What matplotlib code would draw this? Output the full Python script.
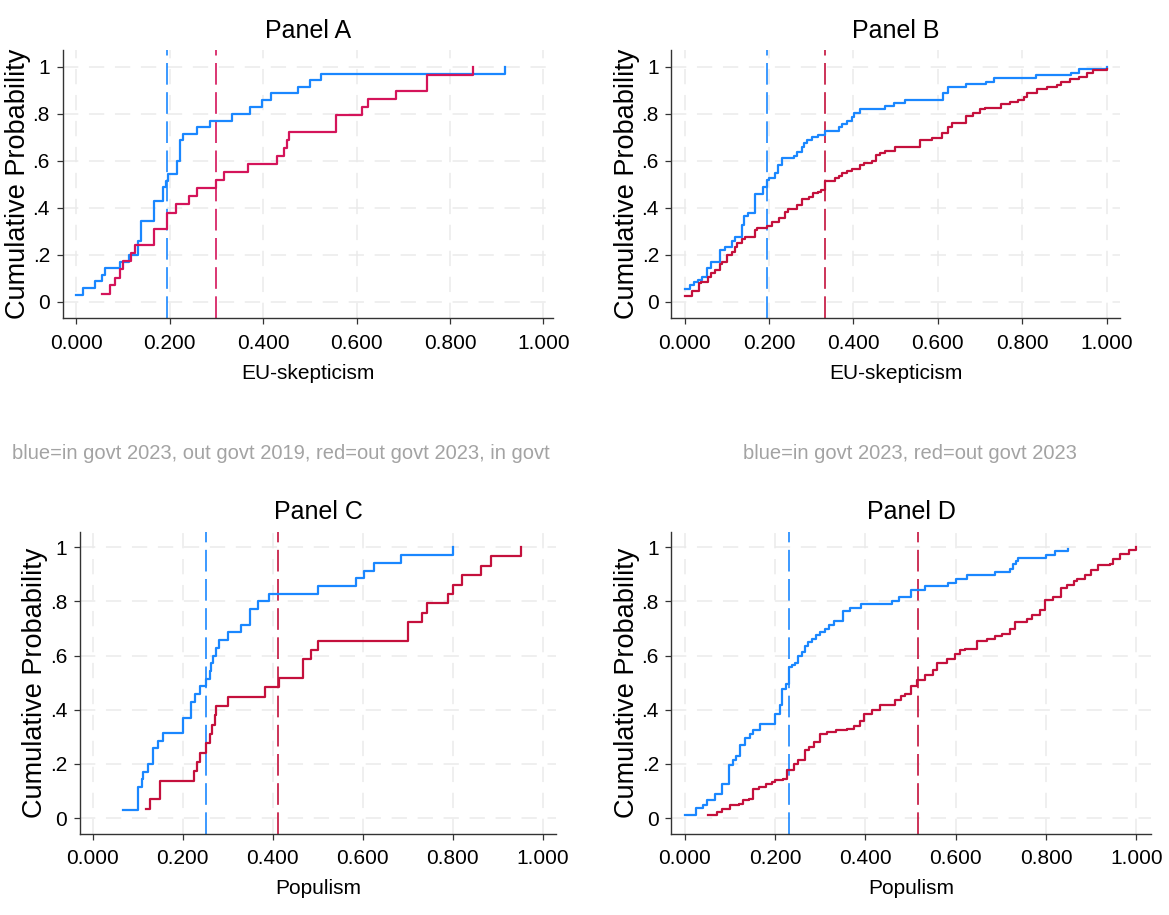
import matplotlib
matplotlib.use('Agg')
import matplotlib.pyplot as plt

plt.rcParams['font.family'] = ['Liberation Sans', 'DejaVu Sans']

## Data (step positions and cumulative probabilities)
# Panel A: EU-skepticism, in govt 2023 / out govt 2019 vs out 2023 / in 2019
a_blue_x = [0.0, 0.015, 0.041, 0.056, 0.061, 0.095, 0.113, 0.133, 0.139, 0.166, 0.185, 0.187, 0.193, 0.196,
            0.215, 0.222, 0.228, 0.259, 0.286, 0.334, 0.372, 0.397, 0.418, 0.474, 0.501, 0.525, 0.917]
a_blue_y = [0.029, 0.057, 0.086, 0.114, 0.143, 0.171, 0.200, 0.257, 0.343, 0.429, 0.457, 0.486, 0.514, 0.543,
            0.600, 0.686, 0.714, 0.743, 0.771, 0.800, 0.829, 0.857, 0.886, 0.914, 0.943, 0.971, 1.0]
a_red_x = [0.056, 0.072, 0.084, 0.095, 0.101, 0.118, 0.126, 0.167, 0.195, 0.213, 0.241, 0.259, 0.300, 0.316,
           0.367, 0.429, 0.445, 0.452, 0.456, 0.556, 0.611, 0.625, 0.685, 0.751, 0.850]
a_red_y = [0.034, 0.069, 0.103, 0.138, 0.172, 0.207, 0.241, 0.310, 0.379, 0.414, 0.448, 0.483, 0.517, 0.552,
           0.586, 0.621, 0.655, 0.690, 0.724, 0.793, 0.828, 0.862, 0.897, 0.966, 1.0]
a_blue_line, a_red_line = 0.195, 0.300

# Panel B: EU-skepticism, in govt 2023 vs out govt 2023
b_blue_x = [0.0, 0.013, 0.021, 0.032, 0.041, 0.054, 0.063, 0.083, 0.096, 0.112, 0.120, 0.136, 0.140, 0.151,
            0.166, 0.186, 0.195, 0.199, 0.214, 0.221, 0.230, 0.258, 0.266, 0.278, 0.282, 0.290, 0.302, 0.317,
            0.333, 0.365, 0.372, 0.384, 0.396, 0.402, 0.416, 0.474, 0.497, 0.523, 0.611, 0.625, 0.667, 0.714,
            0.734, 0.833, 0.916, 0.935, 1.0]
b_blue_y = [0.052, 0.071, 0.082, 0.092, 0.104, 0.142, 0.170, 0.220, 0.234, 0.258, 0.274, 0.326, 0.366, 0.379,
            0.457, 0.489, 0.518, 0.525, 0.546, 0.582, 0.610, 0.620, 0.638, 0.660, 0.674, 0.688, 0.702, 0.709,
            0.728, 0.745, 0.756, 0.769, 0.787, 0.801, 0.820, 0.833, 0.846, 0.858, 0.887, 0.912, 0.926, 0.936,
            0.950, 0.965, 0.975, 0.989, 1.0]
b_red_x = [0.0, 0.017, 0.033, 0.039, 0.055, 0.063, 0.071, 0.084, 0.088, 0.100, 0.112, 0.120, 0.123, 0.136,
           0.144, 0.166, 0.171, 0.195, 0.207, 0.223, 0.238, 0.246, 0.266, 0.279, 0.294, 0.305, 0.317, 0.322,
           0.332, 0.357, 0.365, 0.372, 0.384, 0.396, 0.416, 0.424, 0.444, 0.453, 0.463, 0.475, 0.499, 0.557,
           0.586, 0.609, 0.625, 0.633, 0.667, 0.684, 0.700, 0.712, 0.750, 0.771, 0.791, 0.803, 0.811, 0.834,
           0.858, 0.882, 0.891, 0.913, 0.935, 0.953, 0.967, 1.0]
b_red_y = [0.024, 0.047, 0.078, 0.085, 0.106, 0.121, 0.135, 0.159, 0.170, 0.199, 0.213, 0.234, 0.248, 0.265,
           0.277, 0.305, 0.312, 0.323, 0.340, 0.355, 0.383, 0.393, 0.411, 0.435, 0.447, 0.461, 0.468, 0.475,
           0.513, 0.525, 0.536, 0.546, 0.556, 0.565, 0.582, 0.589, 0.600, 0.624, 0.634, 0.641, 0.660, 0.688,
           0.695, 0.716, 0.745, 0.759, 0.791, 0.801, 0.818, 0.823, 0.841, 0.851, 0.858, 0.872, 0.889, 0.905,
           0.915, 0.922, 0.936, 0.946, 0.957, 0.972, 0.986, 0.989]
b_blue_line, b_red_line = 0.194, 0.332

# Panel C: Populism, same split as panel A
c_blue_x = [0.068, 0.101, 0.109, 0.112, 0.123, 0.134, 0.146, 0.157, 0.201, 0.218, 0.227, 0.239, 0.251, 0.260,
            0.264, 0.268, 0.273, 0.281, 0.301, 0.330, 0.350, 0.367, 0.392, 0.500, 0.584, 0.602, 0.625, 0.686,
            0.800]
c_blue_y = [0.029, 0.114, 0.143, 0.171, 0.200, 0.257, 0.286, 0.314, 0.371, 0.429, 0.457, 0.486, 0.514, 0.543,
            0.571, 0.600, 0.629, 0.657, 0.686, 0.714, 0.771, 0.800, 0.829, 0.857, 0.886, 0.914, 0.943, 0.971,
            1.0]
c_red_x = [0.118, 0.127, 0.149, 0.225, 0.231, 0.239, 0.251, 0.260, 0.266, 0.271, 0.275, 0.301, 0.382, 0.415,
           0.467, 0.484, 0.500, 0.701, 0.732, 0.742, 0.789, 0.800, 0.820, 0.862, 0.885, 0.951]
c_red_y = [0.034, 0.069, 0.138, 0.172, 0.207, 0.241, 0.276, 0.310, 0.345, 0.379, 0.414, 0.448, 0.483, 0.517,
           0.586, 0.621, 0.655, 0.724, 0.759, 0.793, 0.828, 0.862, 0.897, 0.931, 0.966, 1.0]
c_blue_line, c_red_line = 0.251, 0.411

# Panel D: Populism, same split as panel B
d_blue_x = [0.0, 0.025, 0.040, 0.049, 0.066, 0.083, 0.099, 0.108, 0.113, 0.123, 0.133, 0.145, 0.151, 0.166,
            0.199, 0.210, 0.216, 0.225, 0.232, 0.238, 0.245, 0.251, 0.260, 0.266, 0.273, 0.282, 0.291, 0.300,
            0.311, 0.319, 0.330, 0.350, 0.367, 0.391, 0.459, 0.474, 0.500, 0.533, 0.584, 0.600, 0.624, 0.686,
            0.720, 0.728, 0.733, 0.739, 0.800, 0.820, 0.849]
d_blue_y = [0.012, 0.037, 0.049, 0.065, 0.090, 0.127, 0.195, 0.215, 0.229, 0.268, 0.297, 0.312, 0.324, 0.349,
            0.385, 0.416, 0.478, 0.494, 0.558, 0.564, 0.573, 0.597, 0.613, 0.634, 0.650, 0.663, 0.675, 0.687,
            0.700, 0.712, 0.727, 0.765, 0.777, 0.792, 0.800, 0.817, 0.844, 0.857, 0.869, 0.884, 0.897, 0.909,
            0.921, 0.937, 0.948, 0.962, 0.973, 0.987, 0.994]
d_red_x = [0.052, 0.072, 0.083, 0.101, 0.120, 0.129, 0.142, 0.151, 0.165, 0.181, 0.193, 0.201, 0.218, 0.227,
           0.242, 0.251, 0.266, 0.275, 0.286, 0.300, 0.315, 0.334, 0.360, 0.374, 0.389, 0.398, 0.415, 0.433,
           0.466, 0.479, 0.487, 0.500, 0.514, 0.532, 0.549, 0.559, 0.580, 0.599, 0.610, 0.621, 0.648, 0.669,
           0.686, 0.702, 0.720, 0.731, 0.759, 0.768, 0.787, 0.798, 0.816, 0.833, 0.846, 0.861, 0.868, 0.886,
           0.899, 0.916, 0.942, 0.949, 0.964, 0.984, 1.0]
d_red_y = [0.010, 0.022, 0.034, 0.047, 0.053, 0.065, 0.071, 0.108, 0.115, 0.124, 0.133, 0.142, 0.145, 0.176,
           0.198, 0.215, 0.250, 0.262, 0.281, 0.312, 0.318, 0.324, 0.330, 0.339, 0.357, 0.385, 0.398, 0.419,
           0.435, 0.450, 0.459, 0.486, 0.509, 0.527, 0.545, 0.574, 0.589, 0.604, 0.619, 0.626, 0.653, 0.663,
           0.671, 0.681, 0.697, 0.724, 0.736, 0.749, 0.767, 0.804, 0.817, 0.851, 0.860, 0.874, 0.884, 0.897,
           0.915, 0.933, 0.940, 0.958, 0.977, 0.991, 1.0]
d_blue_line, d_red_line = 0.232, 0.516

x_ticks = [0.0, 0.2, 0.4, 0.6, 0.8, 1.0]
x_tick_labels = ['0.000', '0.200', '0.400', '0.600', '0.800', '1.000']
y_ticks = [0.0, 0.2, 0.4, 0.6, 0.8, 1.0]
y_tick_labels = ['0', '.2', '.4', '.6', '.8', '1']

caption_top_left = 'blue=in govt 2023, out govt 2019, red=out govt 2023, in govt'
caption_top_right = 'blue=in govt 2023, red=out govt 2023'

BLUE = '#1a87ff'
RED = '#c4103c'
RED_A = '#d4145a'


def draw_panel(ax, title, xlab, bx, by, rx, ry, bline, rline, red, xlim, ylim):
    ax.step(bx, by, where='post', color=BLUE, lw=1.6, zorder=3)
    ax.step(rx, ry, where='post', color=red, lw=1.6, zorder=3)
    ax.axvline(bline, color=BLUE, lw=1.2, ls=(0, (13, 4.5)), zorder=2)
    ax.axvline(rline, color=red, lw=1.2, ls=(0, (13, 4.5)), zorder=2)

    ax.set_xlim(xlim)
    ax.set_ylim(ylim)
    ax.set_xticks(x_ticks)
    ax.set_xticklabels(x_tick_labels)
    ax.set_yticks(y_ticks)
    ax.set_yticklabels(y_tick_labels)
    ax.grid(True, color='#ebebeb', lw=1.1, ls=(0, (10, 7)))
    ax.set_axisbelow(True)

    for s in ['top', 'right']:
        ax.spines[s].set_visible(False)
    for s in ['left', 'bottom']:
        ax.spines[s].set_color('#333333')
        ax.spines[s].set_linewidth(1.0)
    ax.tick_params(axis='both', length=4, width=0.9, color='#333333', labelsize=15)
    ax.tick_params(axis='x', pad=7)
    ax.tick_params(axis='y', pad=5)

    ax.set_title(title, fontsize=18, pad=9)
    ax.set_xlabel(xlab, fontsize=15, labelpad=8)
    ax.set_ylabel('Cumulative Probability', fontsize=19.5, labelpad=1)


## Figure
W, H = 1169, 915
fig = plt.figure(figsize=(W / 100, H / 100), dpi=100)

def px_axes(left, right, top, bottom):
    return fig.add_axes([left / W, 1 - bottom / H, (right - left) / W, (bottom - top) / H])

ax_a = px_axes(62.5, 553.3, 50, 318.3)
ax_b = px_axes(671.4, 1120, 50, 318.3)
ax_c = px_axes(79.5, 556.4, 531.7, 834)
ax_d = px_axes(671.4, 1150.5, 531.7, 834)

draw_panel(ax_a, 'Panel A', 'EU-skepticism', a_blue_x, a_blue_y, a_red_x, a_red_y,
           a_blue_line, a_red_line, RED_A, (-0.029, 1.021), (-0.0706, 1.0711))
draw_panel(ax_b, 'Panel B', 'EU-skepticism', b_blue_x, b_blue_y, b_red_x, b_red_y,
           b_blue_line, b_red_line, RED, (-0.0315, 1.0316), (-0.0706, 1.0711))
draw_panel(ax_c, 'Panel C', 'Populism', c_blue_x, c_blue_y, c_red_x, c_red_y,
           c_blue_line, c_red_line, RED, (-0.0293, 1.0304), (-0.0591, 1.0576))
draw_panel(ax_d, 'Panel D', 'Populism', d_blue_x, d_blue_y, d_red_x, d_red_y,
           d_blue_line, d_red_line, RED, (-0.0295, 1.0314), (-0.0591, 1.0576))

# Notes under the top panels
fig.text(12 / W, 1 - 453 / H, caption_top_left, color='#a3a3a3', fontsize=14.5, ha='left', va='center')
fig.text(743 / W, 1 - 453 / H, caption_top_right, color='#a3a3a3', fontsize=14.5, ha='left', va='center')

fig.savefig('out.png', dpi=100)
